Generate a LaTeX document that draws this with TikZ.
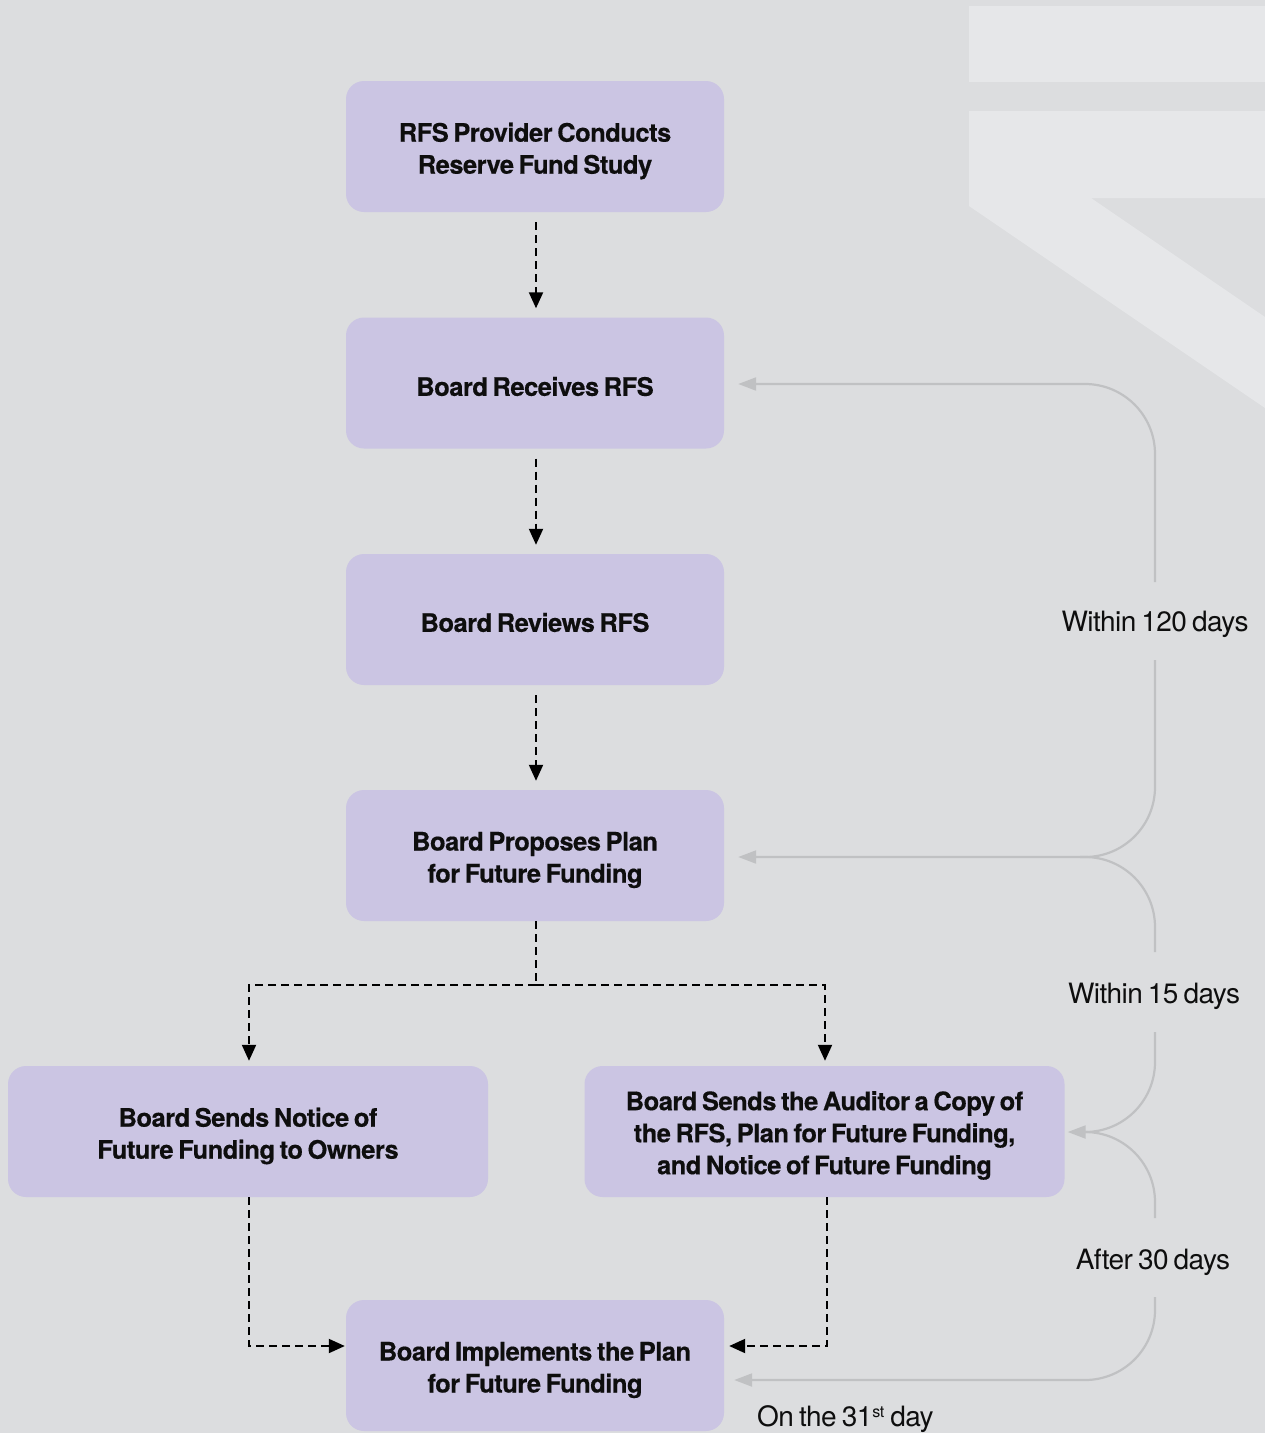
\documentclass[tikz,border=0pt]{standalone}
\usepackage{fontspec}
\setmainfont{TeX Gyre Heros}[LetterSpace=-2, WordSpace=0.7, BoldFeatures={FakeBold=0.4}]
\usetikzlibrary{arrows.meta}
\definecolor{bgc}{HTML}{DCDDDF}
\definecolor{lightc}{HTML}{E6E7E9}
\definecolor{boxc}{HTML}{CBC5E3}
\definecolor{grayc}{HTML}{C0C1C3}
\definecolor{txtc}{HTML}{0E0E0E}
\begin{document}
\begin{tikzpicture}[x=1pt,y=-1pt,
  stepbox/.style={rectangle, rounded corners=18pt, fill=boxc, minimum width=378pt, minimum height=131pt, inner sep=0pt},
  widebox/.style={stepbox, minimum width=480pt},
  boxtext/.style={align=center, inner sep=0pt, text=txtc, font=\fontsize{25.5}{32}\selectfont\bfseries},
  dashline/.style={draw=black, line width=2pt, dash pattern=on 8pt off 5pt, -{Triangle[length=16pt,width=14pt]}},
  dashplain/.style={draw=black, line width=2pt, dash pattern=on 8pt off 5pt},
  grayarrow/.style={draw=grayc, line width=2.2pt, rounded corners=70pt, -{Triangle[length=18pt,width=13pt]}},
  grayplain/.style={draw=grayc, line width=2.2pt, rounded corners=70pt},
  lbl/.style={text=txtc, font=\fontsize{28}{30}\selectfont, inner sep=0pt}
]
\useasboundingbox (0,0) rectangle (1265,1433);
\fill[bgc] (0,0) rectangle (1265,1433);
% background decoration
\fill[lightc] (969,6) rectangle (1265,82);
\fill[lightc] (969,111) -- (1265,111) -- (1265,198) -- (1091,198) -- (1265,317) -- (1265,408) -- (969,206) -- cycle;

% boxes
\node[stepbox] (b1) at (535,146.5) {};
\node[stepbox] (b2) at (535,383) {};
\node[stepbox] (b3) at (535,619.5) {};
\node[stepbox] (b4) at (535,855.5) {};
\node[widebox] (b5) at (248,1131.5) {};
\node[widebox] (b6) at (824.5,1131.5) {};
\node[stepbox] (b7) at (535,1365.5) {};

\node[boxtext] (t1) at ([yshift=-4.5pt]b1.center) {RFS Provider Conducts\\Reserve Fund Study};
\node[boxtext] (t2) at ([yshift=-3.5pt]b2.center) {Board Receives RFS};
\node[boxtext] (t3) at ([yshift=-3pt]b3.center) {Board Reviews RFS};
\node[boxtext] (t4) at ([yshift=-4.5pt]b4.center) {Board Proposes Plan\\for Future Funding};
\node[boxtext] (t5) at ([yshift=-4.5pt]b5.center) {Board Sends Notice of\\Future Funding to Owners};
\node[boxtext] (t6) at ([yshift=-4pt]b6.center) {Board Sends the Auditor a Copy of\\the RFS, Plan for Future Funding,\\and Notice of Future Funding};
\node[boxtext] (t7) at ([yshift=-4.5pt]b7.center) {Board Implements the Plan\\for Future Funding};

% dashed flow
\draw[dashline] ([xshift=1pt,yshift=-10pt]b1.south) -- ([xshift=1pt,yshift=9pt]b2.north);
\draw[dashline] ([xshift=1pt,yshift=-10pt]b2.south) -- ([xshift=1pt,yshift=9pt]b3.north);
\draw[dashline] ([xshift=1pt,yshift=-10pt]b3.south) -- ([xshift=1pt,yshift=9pt]b4.north);
\coordinate (split) at ([xshift=1pt,yshift=-64pt]b4.south);
\draw[dashplain] ([xshift=1pt]b4.south) -- (split);
\draw[dashline] (split) -| ([xshift=1pt,yshift=5pt]b5.north);
\draw[dashline] (split) -| ([xshift=0.5pt,yshift=5pt]b6.north);
\draw[dashline] ([xshift=1pt]b5.south) |- ([xshift=-1pt,yshift=19.5pt]b7.west);
\draw[dashline] ([xshift=2.5pt]b6.south) |- ([xshift=5pt,yshift=19.5pt]b7.east);

% labels
\node[lbl, anchor=base] (l1) at (1155,631) {Within 120 days};
\node[lbl, anchor=base] (l2) at (1154,1003) {Within 15 days};
\node[lbl, anchor=base] (l3) at (1153,1269) {After 30 days};
\node[lbl, anchor=base west] (l4) at (757,1426) {On the 31\raisebox{9pt}{\fontsize{16}{16}\selectfont st}\hspace{6pt}day};

% gray timeline connectors
\coordinate (j1) at (1080,857);
\coordinate (j2) at (1080,1132);
\draw[grayarrow] (1155,582) |- ([xshift=14pt,yshift=-1pt]b2.east);
\draw[grayarrow] (1155,660) |- ([xshift=14pt,yshift=-1.5pt]b4.east);
\draw[grayplain] (1155,952) |- (j1);
\draw[grayarrow] (1155,1032) |- ([xshift=3pt,yshift=-0.5pt]b6.east);
\draw[grayplain] (1155,1218) |- (j2);
\draw[grayarrow] (1155,1297) |- ([xshift=10pt,yshift=-14.5pt]b7.east);
\end{tikzpicture}
\end{document}
